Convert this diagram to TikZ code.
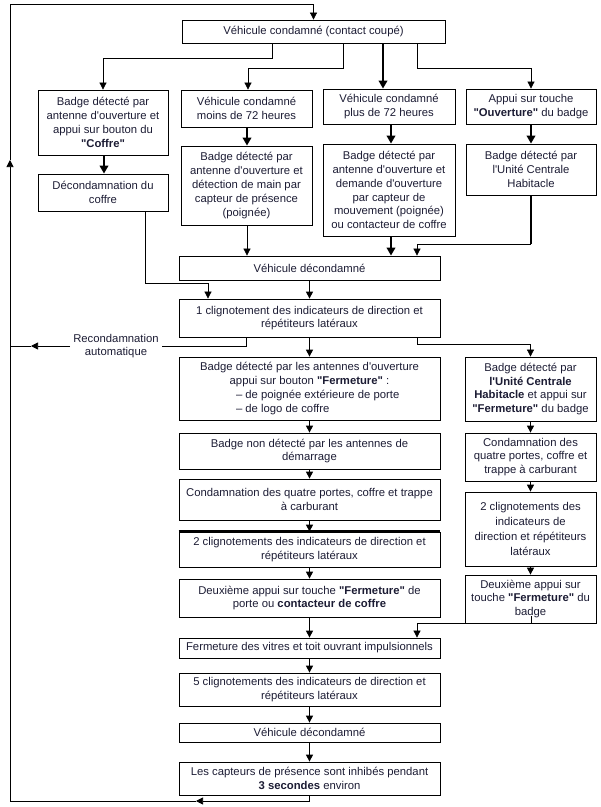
\documentclass[tikz,border=0pt]{standalone}
\usepackage{fontspec}
\setmainfont{Liberation Sans}[Ligatures=TeXOff]
\usetikzlibrary{arrows.meta}
\definecolor{txtcol}{RGB}{28,28,52}
\begin{document}
\begin{tikzpicture}[x=1pt,y=-1pt,
  box/.style={draw=black, line width=0.8pt, align=center, inner sep=0pt,
    font=\fontsize{11.3}{13.8}\selectfont, text=txtcol},
  thin/.style={line width=0.7pt},
  med/.style={line width=1.2pt},
  thk/.style={line width=2.2pt},
  tipa/.style={-{Triangle[length=7pt,width=7pt]}},
  tipb/.style={-{Triangle[length=8pt,width=8.5pt]}},
  lbl/.style={align=center, inner xsep=3pt, inner ysep=0pt,
    font=\fontsize{11.3}{13.8}\selectfont, text=txtcol}
]
\useasboundingbox (0,0) rectangle (601,807);

% ---------- boxes ----------
\node[box, minimum width=263pt, minimum height=23pt] (top) at (313.5,31.5) {Véhicule condamné (contact coupé)};

\node[box, minimum width=130pt, minimum height=65pt] (b1) at (103,122.5)
  {Badge détecté par\\antenne d'ouverture et\\appui sur bouton du\\\textbf{"Coffre"}};
\node[box, minimum width=130pt, minimum height=37pt] (b1b) at (103,192.5)
  {Décondamnation du\\coffre};

\node[box, minimum width=131pt, minimum height=37pt] (b2) at (246.5,108.5)
  {Véhicule condamné\\moins de 72 heures};
\node[box, minimum width=131pt, minimum height=79pt] (b2b) at (246.5,185.5)
  {Badge détecté par\\antenne d'ouverture et\\détection de main par\\capteur de présence\\(poignée)};

\node[box, minimum width=132pt, minimum height=35pt] (b3) at (389,106.5)
  {Véhicule condamné\\plus de 72 heures};
\node[box, minimum width=132pt, minimum height=92pt] (b3b) at (389,190)
  {Badge détecté par\\antenne d'ouverture et\\demande d'ouverture\\par capteur de\\mouvement (poignée)\\ou contacteur de coffre};

\node[box, minimum width=130pt, minimum height=35pt] (b4) at (531,106.5)
  {Appui sur touche\\\textbf{"Ouverture"} du badge};
\node[box, minimum width=130pt, minimum height=51pt] (b4b) at (531,169.5)
  {Badge détecté par\\l'Unité Centrale\\Habitacle};

\node[box, minimum width=261pt, minimum height=24pt] (vd) at (309.5,268) {Véhicule décondamné};
\node[box, minimum width=261pt, minimum height=38pt] (cl1) at (309.5,318)
  {1 clignotement des indicateurs de direction et\\répétiteurs latéraux};

\node[lbl] (recon) at (116,346) {Recondamnation\\automatique};

\node[box, minimum width=261pt, minimum height=63pt] (C1) at (309.5,388.5)
  {Badge détecté par les antennes d'ouverture\\appui sur bouton \textbf{"Fermeture"} :\\
   \makebox[199pt][r]{\makebox[173pt][l]{– de poignée extérieure de porte}}\\
   \makebox[199pt][r]{\makebox[173pt][l]{– de logo de coffre}}};
\node[box, minimum width=261pt, minimum height=36pt] (C2) at (309.5,451)
  {Badge non détecté par les antennes de\\démarrage};
\node[box, minimum width=261pt, minimum height=41pt] (C3) at (309.5,499.5)
  {Condamnation des quatre portes, coffre et trappe\\à carburant};
\node[box, minimum width=261pt, minimum height=35pt] (C4) at (309.5,549.5)
  {2 clignotements des indicateurs de direction et\\répétiteurs latéraux};
\node[box, minimum width=261pt, minimum height=38pt] (C5) at (309.5,598)
  {Deuxième appui sur touche \textbf{"Fermeture"} de\\porte ou \textbf{contacteur de coffre}};
\node[box, minimum width=261pt, minimum height=20pt] (C6) at (309.5,648)
  {Fermeture des vitres et toit ouvrant impulsionnels};
\node[box, minimum width=261pt, minimum height=33pt] (C7) at (309.5,689.5)
  {5 clignotements des indicateurs de direction et\\répétiteurs latéraux};
\node[box, minimum width=261pt, minimum height=19pt] (C8) at (309.5,732.5)
  {Véhicule décondamné};
\node[box, minimum width=261pt, minimum height=33pt] (C9) at (309.5,778.5)
  {Les capteurs de présence sont inhibés pendant\\\textbf{3 secondes} environ};

\node[box, minimum width=131pt, minimum height=64pt] (R1) at (530.5,389)
  {Badge détecté par\\\textbf{l'Unité Centrale}\\\textbf{Habitacle} et appui sur\\\textbf{"Fermeture"} du badge};
\node[box, minimum width=131pt, minimum height=48pt] (R2) at (530.5,457)
  {Condamnation des\\quatre portes, coffre et\\trappe à carburant};
\node[box, minimum width=131pt, minimum height=74pt, font=\fontsize{11.3}{15}\selectfont] (R3) at (530.5,529)
  {2 clignotements des\\indicateurs de\\direction et répétiteurs\\latéraux};
\node[box, minimum width=131pt, minimum height=48pt] (R4) at (530.5,599)
  {Deuxième appui sur\\touche \textbf{"Fermeture"} du\\badge};

\draw[line width=2.6pt] (C4.north west) -- (C4.north east);

% ---------- connectors from top box ----------
\coordinate (k1) at (272,58);
\coordinate (k2) at (343,68);
\coordinate (k2b) at (248,68);
\coordinate (k3) at (383,0);
\coordinate (k4) at (417,68);
\draw[thin, tipa] (top.south -| k1) -- (k1) -- (k1 -| b1.north) -- (b1.north);
\draw[thin, tipa] (top.south -| k2) -- (k2) -- (k2b) -- (k2b |- b2.north);
\draw[thk, tipb] (top.south -| k3) -- (b3.north -| k3);
\draw[thin, tipa] (top.south -| k4) -- (k4) -- (k4 -| b4.north) -- (b4.north);

% ---------- column arrows ----------
\coordinate (x1) at (104,0);
\coordinate (x2) at (247,0);
\coordinate (x3) at (391,0);
\coordinate (x4) at (531,0);
\draw[thk, tipb] (b1.south -| x1) -- (b1b.north -| x1);
\draw[thk, tipb] (b2.south -| x2) -- (b2b.north -| x2);
\draw[thk, tipb] (b3.south -| x3) -- (b3b.north -| x3);
\draw[thk, tipb] (b4.south -| x4) -- (b4b.north -| x4);
\draw[thin, tipa] (b2b.south -| x2) -- (vd.north -| x2);
\draw[thk, tipb] (b3b.south -| x3) -- (vd.north -| x3);

\coordinate (n1) at (531,244);
\coordinate (n2) at (417,244);
\draw[thk] (b4b.south -| n1) -- (n1);
\draw[thin, tipa] (n1) -- (n2) -- (vd.north -| n2);

\coordinate (m1) at (145,283);
\coordinate (m2) at (208,283);
\draw[thin, tipa] (b1b.south -| m1) -- (m1) -- (m2) -- (cl1.north -| m2);

\draw[med, tipa] (vd.south) -- (cl1.north);

% ---------- from 1 clignotement ----------
\coordinate (rc) at (246,346);
\coordinate (ar) at (31,346);
\coordinate (al0) at (10,346);
\draw[thin] (cl1.south -| rc) -- (rc) -- (recon.east);
\draw[thin, tipa] (recon.west) -- (ar);
\draw[thin] (ar) -- (al0);

\coordinate (rr) at (417,344);
\draw[thin, tipa] (cl1.south -| rr) -- (rr) -- (rr -| R1.north) -- (R1.north);
\draw[med, tipa] (cl1.south) -- (C1.north);

% ---------- centre column ----------
\draw[med, tipa] (C1.south) -- (C2.north);
\draw[med, tipa] (C2.south) -- (C3.north);
\draw[med, tipa] (C3.south) -- (C4.north);
\draw[med, tipa] (C4.south) -- (C5.north);
\draw[med, tipa] (C5.south) -- (C6.north);
\draw[med, tipa] (C6.south) -- (C7.north);
\draw[med, tipa] (C7.south) -- (C8.north);
\draw[med, tipa] (C8.south) -- (C9.north);

% ---------- right column ----------
\draw[med, tipa] (R1.south) -- (R2.north);
\draw[med, tipa] (R2.south) -- (R3.north);
\draw[med, tipa] (R3.south) -- (R4.north);
\coordinate (q1) at (531,616);
\coordinate (q2) at (417,623);
\draw[thin, tipa] (q1) -- (q1 |- R4.south) -- (q2 |- R4.south) -- (C6.north -| q2);

% ---------- return loop ----------
\coordinate (lb) at (309.5,801);
\coordinate (ab) at (196,801);
\coordinate (ll) at (10,801);
\coordinate (al) at (10,160);
\coordinate (lt) at (10,4);
\coordinate (lr) at (313.5,4);
\draw[thin, tipa] (C9.south) -- (lb) -- (ab);
\draw[thin, tipa] (ab) -- (ll) -- (al);
\draw[thin, tipa] (al) -- (lt) -- (lr) -- (top.north);
\end{tikzpicture}
\end{document}
